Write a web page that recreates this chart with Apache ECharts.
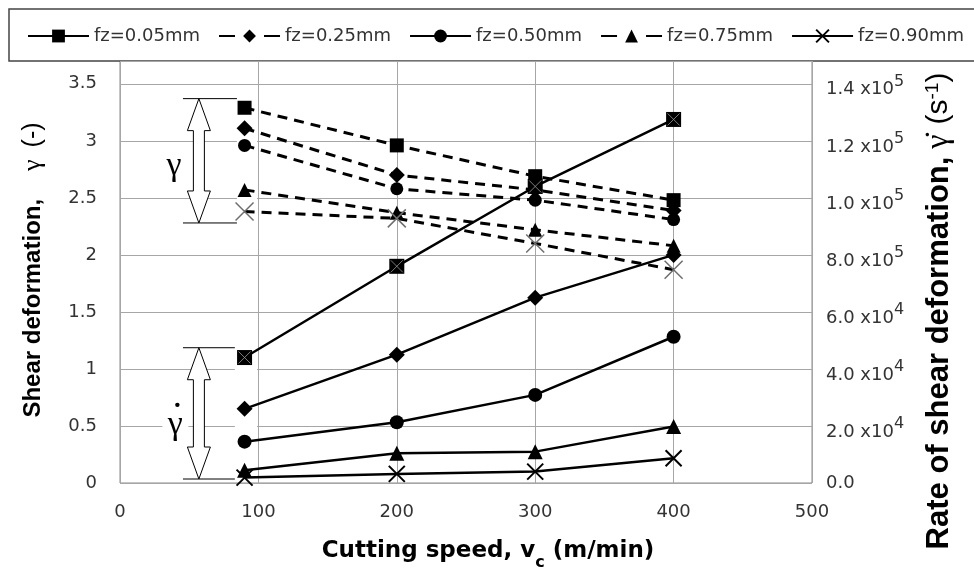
<!DOCTYPE html>
<html>
<head>
<meta charset="utf-8">
<script src="https://cdn.jsdelivr.net/npm/echarts@6/dist/echarts.min.js"></script>
<style>
  html, body { margin: 0; padding: 0; background: #fff; }
  #chart { width: 974px; height: 576px; }
</style>
</head>
<body>
<div id="chart"></div>
<script>
// Cutting speeds (m/min)
const speeds = [90, 200, 300, 400];
const feedNames = ['fz=0.05mm', 'fz=0.25mm', 'fz=0.50mm', 'fz=0.75mm', 'fz=0.90mm'];

// Shear deformation γ (-), left axis
const gamma005 = [3.29, 2.96, 2.69, 2.48];
const gamma025 = [3.11, 2.70, 2.57, 2.39];
const gamma050 = [2.96, 2.58, 2.48, 2.31];
const gamma075 = [2.57, 2.37, 2.22, 2.08];
const gamma090 = [2.38, 2.32, 2.10, 1.87];

// Rate of shear deformation (1/s), right axis
const rate005 = [44000, 76000, 104000, 127500];
const rate025 = [26000, 45000, 65000, 80000];
const rate050 = [14500, 21300, 30900, 51300];
const rate075 = [4500, 10400, 11000, 19800];
const rate090 = [1900, 3200, 4000, 8700];

// Right axis tick text
const rightTickMantissa = ['0.0', '2.0', '4.0', '6.0', '8.0', '1.0', '1.2', '1.4'];
const rightTickExponent = ['', '4', '4', '4', '5', '5', '5', '5'];

const pairs = ys => speeds.map((x, i) => [x, ys[i]]);

const CROSS = 'path://M0,0L10,10M10,0L0,10';
const solidLine = { color: '#000', width: 2.5, type: 'solid' };
const dashLine = { color: '#000', width: 3, type: [10, 7] };
const fill = { color: '#000', borderWidth: 0 };

function lineSeries(name, data, axis, dashed, symbol, size, itemStyle) {
  return {
    type: 'line', name, data: pairs(data), yAxisIndex: axis,
    symbol, symbolSize: size, showSymbol: true,
    lineStyle: dashed ? dashLine : solidLine,
    itemStyle: itemStyle || fill,
    emphasis: { disabled: true }, z: 3
  };
}

const tickFont = 'DejaVu Sans';

const option = {
  animation: false,
  backgroundColor: '#fff',
  grid: { left: 120, right: 162, top: 61, bottom: 93, show: true, borderColor: '#8a8a8a', borderWidth: 1 },
  legend: {
    left: 27, top: 27, padding: 0, itemWidth: 61, itemHeight: 16, itemGap: 18,
    selectedMode: false,
    textStyle: { fontFamily: tickFont, fontSize: 18, color: '#333' },
    data: [
      { name: feedNames[0] },
      { name: feedNames[1], lineStyle: { type: [16, 29] } },
      { name: feedNames[2] },
      { name: feedNames[3], lineStyle: { type: [16, 29] } },
      { name: feedNames[4] }
    ]
  },
  xAxis: {
    type: 'value', min: 0, max: 500, interval: 100,
    axisLine: { show: false }, axisTick: { show: false },
    splitLine: { lineStyle: { color: '#a6a6a6', width: 1 } },
    axisLabel: { margin: 20, fontFamily: tickFont, fontSize: 18, color: '#333' },
    name: '{t|Cutting speed, v}{c|c}{t| (m/min)}',
    nameLocation: 'middle', nameGap: 57,
    nameTextStyle: {
      padding: [0, 0, 0, 44],
      rich: {
        t: { fontFamily: 'DejaVu Sans', fontWeight: 'bold', fontSize: 23, color: '#000', verticalAlign: 'top' },
        c: { fontFamily: 'DejaVu Sans', fontWeight: 'bold', fontSize: 16, color: '#000', lineHeight: 31, verticalAlign: 'bottom' }
      }
    }
  },
  yAxis: [
    {
      type: 'value', min: 0, max: 3.7, interval: 0.5,
      axisLine: { show: false }, axisTick: { show: false },
      splitLine: { lineStyle: { color: '#a6a6a6', width: 1 } },
      axisLabel: { margin: 23, fontFamily: tickFont, fontSize: 18, color: '#333', showMaxLabel: false },
      name: '{b|Shear deformation,}{g|γ}{p|(-)}',
      nameLocation: 'middle', nameGap: 74,
      nameTextStyle: {
        padding: [0, 0, 0, 4],
        rich: {
          b: { fontFamily: 'Liberation Sans', fontWeight: 'bold', fontSize: 24, color: '#000' },
          g: { fontFamily: 'Liberation Serif', fontSize: 26, color: '#000', padding: [0, 12, 0, 28] },
          p: { fontFamily: 'Liberation Sans', fontSize: 25, color: '#000' }
        }
      }
    },
    {
      type: 'value', min: 0, max: 148000, interval: 20000, position: 'right',
      axisLine: { show: false }, axisTick: { show: false }, splitLine: { show: false },
      axisLabel: {
        margin: 14, showMaxLabel: false,
        formatter: function (v) {
          const i = Math.round(v / 20000);
          if (!rightTickExponent[i]) return '{z|' + rightTickMantissa[i] + '}';
          return '{n|' + rightTickMantissa[i] + ' x10}{s|' + rightTickExponent[i] + '}';
        },
        rich: {
          z: { fontFamily: tickFont, fontSize: 18, color: '#333' },
          n: { fontFamily: tickFont, fontSize: 18, color: '#333', lineHeight: 30, verticalAlign: 'bottom' },
          s: { fontFamily: tickFont, fontSize: 16, color: '#333', verticalAlign: 'top', padding: [5, 0, 0, 0] }
        }
      },
      name: '{b|Rate of shear deformation,}{g|γ̇}{p|(s}{s|-1}{p|)}',
      nameLocation: 'middle', nameGap: 111,
      nameTextStyle: {
        padding: [0, 78, 0, 0],
        rich: {
          b: { fontFamily: 'Liberation Sans', fontWeight: 'bold', fontSize: 31, color: '#000' },
          g: { fontFamily: 'Liberation Serif', fontSize: 32, color: '#000', padding: [0, 10, 0, 8] },
          p: { fontFamily: 'Liberation Sans', fontSize: 30, color: '#000' },
          s: { fontFamily: 'Liberation Sans', fontSize: 19, color: '#000', verticalAlign: 'top' }
        }
      }
    }
  ],
  series: [
    lineSeries(feedNames[0], rate005, 1, false, 'rect', 15),
    lineSeries(feedNames[0], gamma005, 0, true, 'rect', 14),
    lineSeries(feedNames[1], gamma025, 0, true, 'diamond', 16),
    lineSeries(feedNames[1], rate025, 1, false, 'diamond', 16),
    lineSeries(feedNames[2], rate050, 1, false, 'circle', 14),
    lineSeries(feedNames[2], gamma050, 0, true, 'circle', 13),
    lineSeries(feedNames[3], gamma075, 0, true, 'triangle', 14),
    lineSeries(feedNames[3], rate075, 1, false, 'triangle', 15),
    lineSeries(feedNames[4], rate090, 1, false, CROSS, 16, { color: '#000', borderColor: '#000', borderWidth: 2 }),
    lineSeries(feedNames[4], gamma090, 0, true, CROSS, 18, { color: '#000', borderColor: '#6e6e6e', borderWidth: 1.5 }),
    {
      // grey cross drawn inside the square markers of the 0.05 mm rate curve
      type: 'scatter', name: feedNames[0], data: pairs(rate005), yAxisIndex: 1,
      symbol: CROSS, symbolSize: 12, silent: true, z: 4,
      itemStyle: { color: 'rgba(0,0,0,0)', borderColor: '#9a9a9a', borderWidth: 1 }
    }
  ],
  graphic: [
    { type: 'rect', z: 0, shape: { x: 9, y: 9, width: 980, height: 52 },
      style: { fill: '#fff', stroke: '#444', lineWidth: 1.5 } }
  ]
};

const chart = echarts.init(document.getElementById('chart'), null, { renderer: 'canvas' });
chart.setOption(option);

// Bracket annotations (data units of the left axis)
const gammaBracket = { x: 57, top: 3.37, bottom: 2.28, capLeft: 45.5, capRight: 84.5, coverRight: 99 };
const rateBracket = { x: 57, top: 1.186, bottom: 0.035, capLeft: 45.5, capRight: 83, coverRight: 99 };
const gammaLabelAt = [39, 2.78];
const rateLabelAt = [40, 0.51];

const px = (x, y) => chart.convertToPixel({ xAxisIndex: 0, yAxisIndex: 0 }, [x, y]);

function bracket(b) {
  const [cx, ty] = px(b.x, b.top);
  const by = px(b.x, b.bottom)[1];
  const l = px(b.capLeft, 0)[0], r = px(b.capRight, 0)[0], cr = px(b.coverRight, 0)[0];
  const hl = 32, hh = 11.5, sh = 5.5;
  return [
    { type: 'rect', z: 1, shape: { x: r, y: ty, width: cr - r, height: by - ty }, style: { fill: '#fff' } },
    { type: 'line', z: 5, shape: { x1: l, y1: ty, x2: r, y2: ty }, style: { stroke: '#000', lineWidth: 1 } },
    { type: 'line', z: 5, shape: { x1: l, y1: by, x2: r, y2: by }, style: { stroke: '#000', lineWidth: 1 } },
    { type: 'polygon', z: 6, shape: { points: [
        [cx, ty], [cx + hh, ty + hl], [cx + sh, ty + hl], [cx + sh, by - hl], [cx + hh, by - hl],
        [cx, by], [cx - hh, by - hl], [cx - sh, by - hl], [cx - sh, ty + hl], [cx - hh, ty + hl]
      ] }, style: { fill: '#fff', stroke: '#000', lineWidth: 1 } }
  ];
}

const gl = px(gammaLabelAt[0], gammaLabelAt[1]);
const rl = px(rateLabelAt[0], rateLabelAt[1]);

chart.setOption({
  graphic: option.graphic.concat(
    bracket(gammaBracket),
    bracket(rateBracket),
    [
      { type: 'text', z: 6, x: gl[0], y: gl[1],
        style: { text: 'γ', fontFamily: 'Liberation Serif', fontSize: 34, fill: '#000', align: 'center', verticalAlign: 'middle' } },
      { type: 'rect', z: 5, shape: { x: rl[0] - 13, y: rl[1] - 24, width: 26, height: 40 }, style: { fill: '#fff' } },
      { type: 'text', z: 6, x: rl[0], y: rl[1],
        style: { text: 'γ', fontFamily: 'Liberation Serif', fontSize: 34, fill: '#000', align: 'center', verticalAlign: 'middle' } },
      { type: 'circle', z: 6, shape: { cx: rl[0] + 2, cy: rl[1] - 20, r: 2.2 }, style: { fill: '#000' } }
    ]
  )
});
</script>
</body>
</html>
